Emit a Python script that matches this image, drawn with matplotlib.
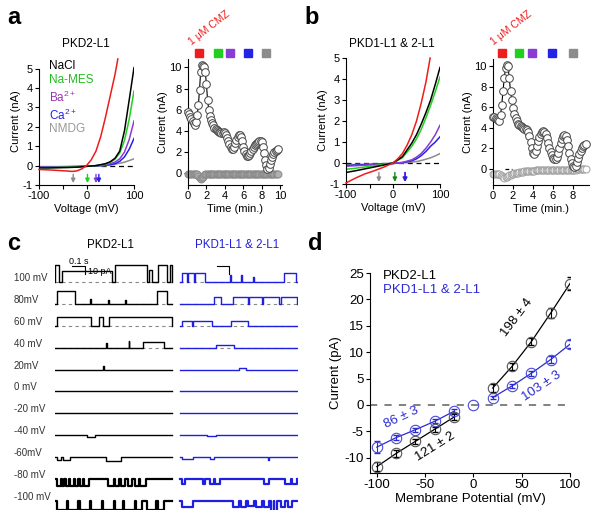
import numpy as np
import matplotlib
matplotlib.use('Agg')
import matplotlib.pyplot as plt
from matplotlib.transforms import blended_transform_factory

plt.rcParams['font.family'] = ['Liberation Sans', 'DejaVu Sans']
plt.rcParams['mathtext.fontset'] = 'custom'
plt.rcParams['mathtext.rm'] = 'Liberation Sans'
plt.rcParams['mathtext.it'] = 'Liberation Sans:italic'
plt.rcParams['axes.unicode_minus'] = False
plt.rcParams['axes.linewidth'] = 0.8
for a in ('xtick', 'ytick'):
    plt.rcParams[a + '.major.size'] = 3
    plt.rcParams[a + '.major.width'] = 0.8
    plt.rcParams[a + '.major.pad'] = 1.5
    plt.rcParams[a + '.labelsize'] = 8

RED = '#ee1c1c'
GREEN = '#1fd01f'
DKGREEN = '#138a13'
PURPLE = '#8a3bd6'
BLUE = '#2323e6'
GRAY = '#8c8c8c'
DBLUE = '#2a2ad2'

# ---------------- data: panel a / b I-V curves ----------------
iv_v = [-100, -80, -60, -40, -20, 0, 20, 40, 50, 60, 70, 80, 90, 100]
a_black = [-0.12, -0.12, -0.11, -0.1, -0.08, -0.04, 0.0, 0.1, 0.2, 0.38, 0.75, 1.8, 3.4, 5.05]
a_green = [-0.1, -0.1, -0.09, -0.08, -0.07, -0.04, 0.0, 0.08, 0.17, 0.33, 0.65, 1.3, 2.4, 3.85]
a_purple = [-0.08, -0.08, -0.07, -0.06, -0.05, -0.03, 0.0, 0.04, 0.1, 0.18, 0.35, 0.7, 1.35, 2.3]
a_blue = [-0.08, -0.08, -0.07, -0.06, -0.05, -0.03, -0.01, 0.02, 0.05, 0.1, 0.22, 0.45, 0.85, 1.4]
a_gray = [-0.05, -0.05, -0.05, -0.04, -0.04, -0.03, -0.03, 0.0, 0.03, 0.07, 0.12, 0.18, 0.26, 0.35]
a_red_v = [-100, -80, -60, -40, -30, -20, -10, 0, 10, 20, 30, 40, 50, 60, 66]
a_red_i = [-0.2, -0.22, -0.25, -0.28, -0.3, -0.27, -0.17, 0.0, 0.3, 0.75, 1.5, 2.5, 3.6, 4.7, 5.5]

b_black = [-0.45, -0.37, -0.28, -0.19, -0.1, 0.0, 0.3, 0.95, 1.35, 1.85, 2.4, 3.0, 3.75, 4.55]
b_green = [-0.3, -0.25, -0.19, -0.13, -0.07, 0.0, 0.25, 0.8, 1.15, 1.6, 2.15, 2.75, 3.4, 4.1]
b_purple = [-0.15, -0.13, -0.1, -0.08, -0.05, -0.02, 0.03, 0.15, 0.28, 0.45, 0.7, 1.0, 1.35, 1.8]
b_blue = [-0.12, -0.1, -0.08, -0.06, -0.04, -0.02, 0.02, 0.1, 0.2, 0.35, 0.55, 0.8, 1.0, 1.25]
b_gray = [-0.08, -0.07, -0.06, -0.05, -0.03, -0.02, 0.0, 0.04, 0.07, 0.12, 0.18, 0.25, 0.34, 0.45]
b_red_v = [-100, -80, -60, -40, -20, 0, 10, 20, 30, 40, 50, 60, 70, 79]
b_red_i = [-0.95, -0.72, -0.52, -0.37, -0.2, 0.0, 0.2, 0.45, 0.85, 1.35, 2.0, 2.85, 3.85, 5.0]

# reversal potential arrows (mV): gray, green, purple, blue
a_erev = [-28, 2, 20, 26]
b_erev = [-30, 4, 25, 26]

# ---------------- data: time courses (sampled every 0.125 min) ----------------
dt = 0.125
ta_pos = [5.8, 5.6, 5.3, 5.1, 4.9, 4.7, 4.5, 4.8, 5.5, 6.4, 7.9, 9.6, 10.2, 10.1, 10.0, 9.6,
          8.4, 6.9, 6.0, 5.4, 5.0, 4.7, 4.5, 4.3, 4.2, 4.1, 4.0, 3.9, 3.9, 3.8, 3.8, 3.9,
          3.8, 3.6, 3.3, 3.0, 2.7, 2.5, 2.3, 2.3, 2.5, 2.8, 3.1, 3.4, 3.6, 3.6, 3.4, 3.0,
          2.5, 2.1, 1.8, 1.6, 1.6, 1.7, 1.9, 2.1, 2.3, 2.5, 2.6, 2.7, 2.8, 2.9, 3.0, 3.0,
          2.9, 2.5, 1.9, 1.2, 0.7, 0.4, 0.5, 0.8, 1.2, 1.5, 1.8, 2.0, 2.1, 2.2, 2.3]
ta_neg = [-0.1, -0.1, -0.12, -0.1, -0.1, -0.12, -0.1, -0.12, -0.15, -0.3, -0.45, -0.55, -0.5, -0.35, -0.2, -0.15,
          -0.12, -0.1, -0.1, -0.12, -0.1, -0.1, -0.1, -0.12, -0.1, -0.1, -0.1, -0.1, -0.12, -0.1, -0.1, -0.1,
          -0.1, -0.1, -0.12, -0.1, -0.1, -0.1, -0.1, -0.1, -0.1, -0.12, -0.1, -0.1, -0.1, -0.1, -0.1, -0.1,
          -0.1, -0.12, -0.1, -0.1, -0.1, -0.1, -0.1, -0.1, -0.1, -0.12, -0.1, -0.1, -0.1, -0.1, -0.1, -0.1,
          -0.1, -0.1, -0.1, -0.12, -0.1, -0.1, -0.1, -0.1, -0.1, -0.1, -0.1, -0.1, -0.1, -0.1, -0.1]
tb_pos = [5.0, 5.0, 4.9, 4.8, 4.7, 4.6, 5.2, 6.2, 7.6, 8.8, 9.8, 10.1, 10.0, 8.8, 7.6, 6.7,
          5.9, 5.3, 4.9, 4.6, 4.4, 4.3, 4.2, 4.1, 4.0, 3.9, 3.9, 3.8, 3.6, 3.2, 2.6, 2.0,
          1.5, 1.4, 1.7, 2.2, 2.7, 3.1, 3.4, 3.6, 3.7, 3.6, 3.4, 3.0, 2.5, 2.0, 1.6, 1.3,
          1.0, 0.9, 0.9, 1.1, 1.5, 2.0, 2.5, 2.9, 3.2, 3.3, 3.2, 2.8, 2.2, 1.5, 0.9, 0.5,
          0.3, 0.2, 0.3, 0.6, 1.0, 1.4, 1.7, 2.0, 2.2, 2.3, 2.4]
tb_neg = [-0.5, -0.5, -0.55, -0.5, -0.55, -0.55, -0.6, -0.7, -0.8, -0.9, -0.85, -0.78, -0.7, -0.65, -0.6, -0.55,
          -0.5, -0.47, -0.44, -0.42, -0.4, -0.37, -0.35, -0.32, -0.3, -0.28, -0.26, -0.25, -0.24, -0.22, -0.21, -0.2,
          -0.2, -0.19, -0.18, -0.17, -0.17, -0.16, -0.16, -0.15, -0.15, -0.15, -0.14, -0.14, -0.13, -0.13, -0.13, -0.12,
          -0.12, -0.12, -0.12, -0.11, -0.11, -0.1, -0.1, -0.1, -0.1, -0.1, -0.1, -0.1, -0.1, -0.1, -0.1, -0.09,
          -0.09, -0.09, -0.09, -0.08, -0.08, -0.08, -0.08, -0.08, -0.08, -0.08, -0.08]
# solution change markers (min)
a_marks = [1.2, 3.3, 4.6, 6.5, 8.5]
b_marks = [0.9, 2.6, 3.9, 5.9, 8.0]
mark_colors = [RED, GREEN, PURPLE, BLUE, GRAY]

# ---------------- data: panel c single channel traces ----------------
c_labels = ['100 mV', '80mV', '60 mV', '40 mV', '20mV', '0 mV', '-20 mV', '-40 mV', '-60mV', '-80 mV', '-100 mV']
c_amp_black = [23, 17.5, 12, 7.3, 3.3, 0, -2.3, -4.5, -7, -9.2, -11.7]
c_amp_blue = [11.5, 8.6, 6, 3.6, 1.5, 0, -1.2, -3.1, -4.7, -6.2, -8]
# open events: (start, end, fraction of unitary amplitude), sweep time 0..1
c_ev_black = [
    [(0.0, 0.03, 1), (0.06, 0.49, 0.65), (0.51, 0.79, 1), (0.80, 0.83, 0.7), (0.88, 0.96, 1), (0.98, 1.0, 1)],
    [(0.02, 0.17, 1), (0.30, 0.31, 0.4), (0.45, 0.46, 0.3), (0.60, 0.61, 0.3), (0.87, 0.96, 1)],
    [(0.02, 0.31, 1), (0.38, 0.41, 1), (0.46, 1.0, 1)],
    [(0.44, 0.445, 0.8), (0.63, 0.635, 1.2), (0.75, 0.93, 1)],
    [(0.41, 0.415, 1.3)],
    [],
    [],
    [(0.27, 0.34, 0.4)],
    [(0.02, 0.05, 0.6), (0.07, 0.13, 0.6), (0.44, 0.56, 0.8)],
    [(0.02, 0.05, 1), (0.06, 0.08, 1), (0.09, 0.12, 1), (0.13, 0.16, 1), (0.17, 0.2, 1), (0.21, 0.24, 1),
     (0.25, 0.29, 1), (0.45, 0.5, 1), (0.51, 0.55, 1), (0.56, 0.6, 1), (0.62, 0.66, 1), (0.68, 0.72, 1),
     (0.73, 0.78, 1)],
    [(0.02, 0.1, 1), (0.11, 0.2, 1), (0.21, 0.3, 1), (0.31, 0.4, 1), (0.41, 0.5, 1), (0.51, 0.58, 1),
     (0.59, 0.68, 1), (0.69, 0.74, 1), (0.79, 0.86, 1), (0.88, 0.93, 1)],
]
c_ev_blue = [
    [(0.02, 0.06, 1), (0.065, 0.12, 1), (0.125, 0.21, 1), (0.43, 0.44, 0.8), (0.52, 0.53, 0.8),
     (0.62, 0.63, 0.6), (0.89, 0.99, 1)],
    [(0.29, 0.35, 1), (0.45, 0.58, 1), (0.59, 0.7, 1), (0.71, 0.85, 1), (0.86, 1.0, 1)],
    [(0.02, 0.1, 1), (0.11, 0.27, 1), (0.44, 0.58, 1)],
    [(0.31, 0.46, 1)],
    [(0.5, 0.56, 1)],
    [],
    [],
    [(0.23, 0.31, 0.5)],
    [(0.02, 0.11, 0.6), (0.26, 0.29, 0.6), (0.75, 0.76, 0.8)],
    [(0.02, 0.04, 1), (0.2, 0.21, 1), (0.26, 0.29, 1), (0.3, 0.34, 1), (0.72, 0.76, 1), (0.9, 0.95, 1),
     (0.96, 1.0, 1)],
    [(0.02, 0.11, 1), (0.45, 0.5, 1), (0.52, 0.56, 1), (0.58, 0.63, 0.8), (0.65, 0.7, 1), (0.72, 0.76, 1),
     (0.78, 0.8, 2), (0.8, 0.83, 1.8), (0.86, 0.9, 1), (0.92, 0.96, 1)],
]

# ---------------- data: panel d unitary I-V ----------------
d_v_neg = [-100, -80, -60, -40, -20]
d_v_pos = [20, 40, 60, 80, 100]
d_black_neg = [-11.7, -9.2, -6.9, -4.6, -2.3]
d_black_pos = [3.2, 7.3, 12.0, 17.4, 23.0]
d_black_neg_err = [0.8, 0.6, 0.5, 0.5, 0.6]
d_black_pos_err = [0.7, 0.6, 0.6, 0.9, 1.2]
d_blue_neg = [-8.0, -6.2, -4.7, -3.1, -1.2]
d_blue_pos = [1.4, 3.6, 6.0, 8.6, 11.5]
d_blue_neg_err = [1.1, 0.5, 0.4, 0.4, 0.4]
d_blue_pos_err = [0.3, 0.4, 0.5, 0.6, 0.8]

# ---------------- figure ----------------
W, H = 600, 526
fig = plt.figure(figsize=(6, 5.26), dpi=100)


def box(x0, y0, x1, y1):
    return [x0 / W, 1 - y1 / H, (x1 - x0) / W, (y1 - y0) / H]


def ftext(x, y, s, **kw):
    kw.setdefault('ha', 'center')
    kw.setdefault('va', 'center')
    fig.text(x / W, 1 - y / H, s, **kw)


def clean(ax):
    ax.spines['top'].set_visible(False)
    ax.spines['right'].set_visible(False)
    ax.tick_params(direction='out')


# ---- I-V panels a and b ----
def iv_panel(rect, ylim, curves, red_v, red_i, erev, arrow_green, dash_from):
    ax = fig.add_axes(rect)
    clean(ax)
    ax.set_xlim(-100, 100)
    ax.set_ylim(*ylim)
    ax.spines['left'].set_bounds(-1, 5)
    ax.set_xticks([-100, -50, 0, 50, 100])
    ax.set_xticklabels(['-100', '', '0', '', '100'])
    ax.set_yticks(range(-1, 6))
    ax.plot([dash_from, 100], [0, 0], color='black', lw=0.9, dashes=(4, 3), zorder=1)
    for vals, col in curves:
        ax.plot(iv_v, vals, color=col, lw=1.1, zorder=2)
    ax.plot(red_v, red_i, color=RED, lw=1.1, zorder=3, clip_on=False)
    for v, col in zip(erev, [GRAY, arrow_green, PURPLE, BLUE]):
        ax.annotate('', xy=(v, -0.9), xytext=(v, -0.45),
                    arrowprops=dict(arrowstyle='-|>', color=col, lw=1.0, mutation_scale=6,
                                    shrinkA=0, shrinkB=0))
    ax.set_xlabel('Voltage (mV)', fontsize=8, labelpad=2)
    ax.set_ylabel('Current (nA)', fontsize=8, labelpad=1)
    return ax


iv_panel(box(39, 57, 134, 185), (-1, 5.6),
         [(a_gray, GRAY), (a_blue, BLUE), (a_purple, PURPLE), (a_green, GREEN), (a_black, 'black')],
         a_red_v, a_red_i, a_erev, GREEN, 30)
iv_panel(box(346, 57, 440, 184), (-1, 5.05),
         [(b_gray, GRAY), (b_blue, BLUE), (b_purple, PURPLE), (b_green, GREEN), (b_black, 'black')],
         b_red_v, b_red_i, b_erev, DKGREEN, -100)


# ---- time course panels ----
def tc_panel(rect, xlim, ylim, xticks, pos, neg, neg_fc, neg_ec, marks):
    ax = fig.add_axes(rect)
    clean(ax)
    ax.set_xlim(*xlim)
    ax.set_ylim(*ylim)
    ax.set_xticks(xticks)
    ax.set_yticks([0, 2, 4, 6, 8, 10])
    t_pos = np.arange(len(pos)) * dt
    t_neg = np.arange(len(neg)) * dt
    ax.plot(t_neg, neg, 'o', ms=5, mfc=neg_fc, mec=neg_ec, mew=0.7, zorder=2, clip_on=False)
    ax.plot(t_pos, pos, '-', color='black', lw=0.8, zorder=3)
    ax.plot(t_pos, pos, 'o', ms=5.5, mfc='white', mec='#444444', mew=0.7, zorder=4, clip_on=False)
    tr = blended_transform_factory(ax.transData, ax.transAxes)
    for t, col in zip(marks, mark_colors):
        ax.plot([t], [1.045], 's', ms=6, color=col, transform=tr, clip_on=False)
    ax.set_xlabel('Time (min.)', fontsize=8, labelpad=2)
    ax.set_ylabel('Current (nA)', fontsize=8, labelpad=1)
    return ax


tc_panel(box(188, 59, 282, 185), (0, 10.2), (-1.15, 10.8), [0, 2, 4, 6, 8, 10],
         ta_pos, ta_neg, '#b0b0b0', '#8a8a8a', a_marks)
axb = tc_panel(box(493, 59, 589, 185), (0, 9.6), (-1.6, 10.7), [0, 2, 4, 6, 8],
               tb_pos, tb_neg, 'white', '#a0a0a0', b_marks)
axb.plot([1.2, 1.9], [0, 0], color='black', lw=0.9, dashes=(3, 2), zorder=5)

# ---- panel a/b text ----
ftext(14, 17, 'a', fontsize=17, fontweight='bold')
ftext(312, 17, 'b', fontsize=17, fontweight='bold')
ftext(86, 44, 'PKD2-L1', fontsize=8.5)
ftext(392, 44, 'PKD1-L1 & 2-L1', fontsize=8.5)
legend_items = [('NaCl', 'black'), ('Na-MES', '#22bb22'), ('Ba$^{2+}$', '#9a35b0'),
                ('Ca$^{2+}$', BLUE), ('NMDG', '#999999')]
for k, (lab, col) in enumerate(legend_items):
    ftext(49, [66, 80, 97, 115, 129][k], lab, fontsize=8.5, color=col, ha='left')
ftext(193, 47, '1 \u03bcM CMZ', fontsize=7.5, color=RED, ha='left', va='bottom',
      rotation=38, rotation_mode='anchor')
ftext(495, 47, '1 \u03bcM CMZ', fontsize=7.5, color=RED, ha='left', va='bottom',
      rotation=38, rotation_mode='anchor')

# ---- panel c traces ----
pa = 0.75                      # px per pA
row_px = 21.9                  # px between sweeps
c_top, c_bot, base0 = 256, 510, 282
axc = fig.add_axes(box(55, c_top, 298, c_bot))
axc.set_axis_off()
axc.set_xlim(0, 243 / 117)
axc.set_ylim(-(c_bot - base0) / pa, (base0 - c_top) / pa)
col_off = [0.0, 125 / 117]
row_step = row_px / pa


def sweep(events, amp):
    xs, ys = [0.0], [0.0]
    for s, e, f in events:
        xs += [s, s, e, e]
        ys += [0, amp * f, amp * f, 0]
    xs.append(1.0)
    ys.append(0.0)
    return np.array(xs), np.array(ys)


for k in range(len(c_labels)):
    base = -k * row_step
    for off, evs, amps, col in [(col_off[0], c_ev_black, c_amp_black, 'black'),
                                (col_off[1], c_ev_blue, c_amp_blue, '#1f1fe0')]:
        if k < 4:
            axc.plot([off, off + 1], [base, base], color='#888888', lw=0.8, dashes=(3, 3), zorder=1)
        xs, ys = sweep(evs[k], amps[k])
        w = 1.0 + (0.6 if k >= 9 else 0)
        axc.plot(xs + off, ys + base, color=col, lw=w, zorder=2)
    ftext(14, base0 - 4 + k * row_px, c_labels[k], fontsize=7, color='#333333', ha='left')

# scale bars
sb_y = 21.3
axc.plot([0.145, 0.256, 0.256], [sb_y, sb_y, sb_y - 10], color='black', lw=0.8)
axc.plot([col_off[1] + 0.32, col_off[1] + 0.42, col_off[1] + 0.42],
         [sb_y, sb_y, sb_y - 10], color='black', lw=0.8)
ftext(79, 261, '0.1 s', fontsize=6.5)
ftext(88, 271, '10 pA', fontsize=6.5, ha='left')
ftext(14, 243, 'c', fontsize=17, fontweight='bold')
ftext(110, 245, 'PKD2-L1', fontsize=8.3)
ftext(237, 245, 'PKD1-L1 & 2-L1', fontsize=8.3, color='#2020d8')

# ---- panel d ----
axd = fig.add_axes(box(370, 273, 570, 473))
clean(axd)
axd.set_xlim(-107, 100)
axd.set_ylim(-12.9, 25)
axd.set_xticks([-100, -50, 0, 50, 100])
axd.set_yticks([-10, -5, 0, 5, 10, 15, 20, 25])
axd.tick_params(labelsize=9.5)
axd.plot([-107, 100], [0, 0], color='#777777', lw=1.3, dashes=(4, 4), zorder=1)
for vv, ii, ee, lc, mc in [(d_v_neg, d_black_neg, d_black_neg_err, 'black', '#555555'),
                           (d_v_pos, d_black_pos, d_black_pos_err, 'black', '#555555'),
                           (d_v_neg, d_blue_neg, d_blue_neg_err, DBLUE, '#4a4ad8'),
                           (d_v_pos, d_blue_pos, d_blue_pos_err, DBLUE, '#4a4ad8')]:
    axd.plot(vv, ii, color=lc, lw=0.9, zorder=2)
    axd.errorbar(vv, ii, yerr=ee, fmt='none', ecolor=lc, elinewidth=0.8, capsize=2.5, zorder=3)
    axd.plot(vv, ii, 'o', ms=7.5, mfc='none', mec=mc, mew=0.8, zorder=4)
axd.plot([0], [0], 'o', ms=7.5, mfc='none', mec='#4a4ad8', mew=0.8, zorder=4)
axd.text(45, 16.5, '198 \u00b1 4', fontsize=9.5, rotation=53, ha='center', va='center')
axd.text(71, 3.6, '103 \u00b1 3', fontsize=9.5, rotation=34, ha='center', va='center', color=DBLUE)
axd.text(-75, -2.3, '86 \u00b1 3', fontsize=9.5, rotation=25, ha='center', va='center', color=DBLUE)
axd.text(-40, -7.9, '121 \u00b1 2', fontsize=9.5, rotation=32, ha='center', va='center')
axd.set_xlabel('Membrane Potential (mV)', fontsize=9.5, labelpad=1)
axd.set_ylabel('Current (pA)', fontsize=9.5, labelpad=2)
ftext(315, 243, 'd', fontsize=17, fontweight='bold')
ftext(383, 276, 'PKD2-L1', fontsize=9.5, ha='left')
ftext(383, 290, 'PKD1-L1 & 2-L1', fontsize=9.5, ha='left', color=DBLUE)

fig.savefig('out.png', dpi=100)
